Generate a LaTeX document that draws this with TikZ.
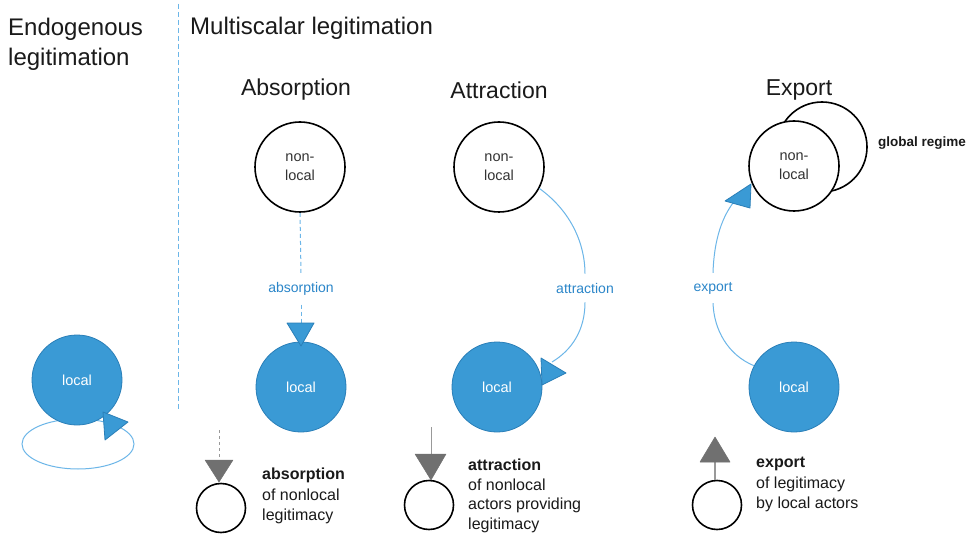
\documentclass[tikz,border=0pt]{standalone}
\usepackage{fontspec}
\setmainfont{Liberation Sans}
\usetikzlibrary{arrows.meta}
\definecolor{bluefill}{HTML}{3A9AD5}
\definecolor{blueedge}{HTML}{2A7FB8}
\definecolor{bluetext}{HTML}{2B86C9}
\definecolor{blueline}{HTML}{6CB6E8}
\definecolor{grayarrow}{HTML}{707070}
\definecolor{grayline}{HTML}{999999}
\definecolor{darktext}{HTML}{1A1A1A}
\tikzset{
  localc/.style={circle, fill=bluefill, draw=blueedge, line width=0.8pt, minimum size=90pt, inner sep=0pt, text=white, font=\fontsize{14.5}{17}\selectfont},
  nonlocalc/.style={circle, draw=black, line width=1.6pt, fill=white, minimum size=90pt, inner sep=0pt, align=center, text=black!80, font=\fontsize{14.5}{19}\selectfont},
  legc/.style={circle, draw=black, line width=1.6pt, minimum size=49pt, inner sep=0pt},
  conn/.style={draw=blueline, line width=1pt},
  dashconn/.style={conn, dash pattern=on 4pt off 3pt},
  bluelabel/.style={text=bluetext, font=\fontsize{14}{17}\selectfont, inner sep=9pt},
  bluetip/.style={fill=bluefill, draw=blueedge, line width=0.8pt, line join=round},
  graytip/.style={fill=grayarrow, draw=grayarrow, line width=0.5pt, line join=round},
  bigtitle/.style={font=\fontsize{24}{30}\selectfont, align=left, anchor=west, inner sep=0pt, text=darktext},
  subtitle/.style={font=\fontsize{23}{28}\selectfont, inner sep=0pt, text=darktext},
  legtext/.style={font=\fontsize{16}{20.5}\selectfont, align=left, anchor=north west, inner sep=0pt, text=darktext},
}
\begin{document}
\begin{tikzpicture}[x=1pt,y=-1pt]
\useasboundingbox[fill=white] (0,0) rectangle (973,534);

% titles
\node[bigtitle] (endo) at (8,44) {Endogenous\\legitimation};
\node[bigtitle] (multi) at (190,28) {Multiscalar legitimation};
\draw[blueline, line width=1pt, dash pattern=on 5pt off 3pt] (178,4) -- (178,410);

\node[subtitle] (tabs) at (296,90) {Absorption};
\node[subtitle] (tatt) at (499,90) {Attraction};
\node[subtitle] (texp) at (799,90) {Export};

% endogenous
\coordinate (loopc) at (78,444);
\draw[conn] (loopc) ellipse [x radius=56, y radius=25];
\node[localc] (endolocal) at (77,380) {local};
\draw[bluetip] (103,412) -- (128,422) -- (105,440) -- cycle;

% absorption
\node[nonlocalc] (absnl) at (300,167) {non-\\local};
\node[localc] (absl) at (301,387) {local};
\node[bluelabel] (abslab) at (301,289) {absorption};
\coordinate (absbase) at (301,323);
\draw[dashconn] (absnl.south) -- (abslab.north);
\draw[dashconn] (abslab.south) -- (absbase);
\draw[bluetip] (287,323) -- (314,323) -- (301,346) -- cycle;

% attraction
\node[nonlocalc] (attnl) at (499,167) {non-\\local};
\node[localc] (attl) at (497,387) {local};
\node[bluelabel] (attlab) at (585,288) {attraction};
\coordinate (attend) at (552,362);
\draw[conn] (attnl.-28) .. controls (572,212) and (585,245) .. (attlab.north);
\draw[conn] (attlab.south) .. controls (585,330) and (572,350) .. (attend);
\draw[bluetip] (541,358) -- (566,373) -- (542,385) -- cycle;

% export
\node[nonlocalc] (glob) at (822,147) {};
\node[nonlocalc] (expnl) at (794,166) {non-\\local};
\node[font=\bfseries\fontsize{13.5}{16}\selectfont, anchor=west, inner sep=0pt, text=darktext] (globlab) at (878,143) {global regime};
\node[localc] (expl) at (794,387) {local};
\node[bluelabel] (explab) at (713,288) {export};
\coordinate (expend) at (737,198);
\draw[conn] (expl.152) .. controls (728,355) and (714,330) .. (explab.south);
\draw[conn] (explab.north) .. controls (714,240) and (722,215) .. (expend);
\draw[bluetip] (725,201) -- (751,184) -- (750,208) -- cycle;

% legend: absorption
\node[legc] (legabs) at (221,508) {};
\coordinate (legabstop) at (219,430);
\coordinate (legabsbase) at (219,460);
\draw[grayline, line width=1pt, dash pattern=on 3pt off 3pt] (legabstop) -- (legabsbase);
\draw[graytip] (205,460) -- (233,460) -- (219,482) -- cycle;
\node[legtext] (legabstext) at (262,468) {\textbf{absorption}\\of nonlocal\\legitimacy};

% legend: attraction
\node[legc] (legatt) at (429,505) {};
\coordinate (legatttop) at (431,427);
\coordinate (legattbase) at (431,454);
\draw[grayline, line width=1pt] (legatttop) -- (legattbase);
\draw[graytip] (415,454) -- (446,454) -- (431,480) -- cycle;
\node[legtext, font=\fontsize{16}{19.5}\selectfont] (legatttext) at (468,459) {\textbf{attraction}\\of nonlocal\\actors providing\\legitimacy};

% legend: export
\node[legc] (legexp) at (717,505) {};
\coordinate (legexpbase) at (715,461);
\draw[grayline, line width=1.5pt] (legexp.north) ++(-2,0) -- (legexpbase);
\draw[graytip] (700,462) -- (730,462) -- (715,437) -- cycle;
\node[legtext] (legexptext) at (756,457) {\textbf{export}\\of legitimacy\\by local actors};
\end{tikzpicture}
\end{document}
